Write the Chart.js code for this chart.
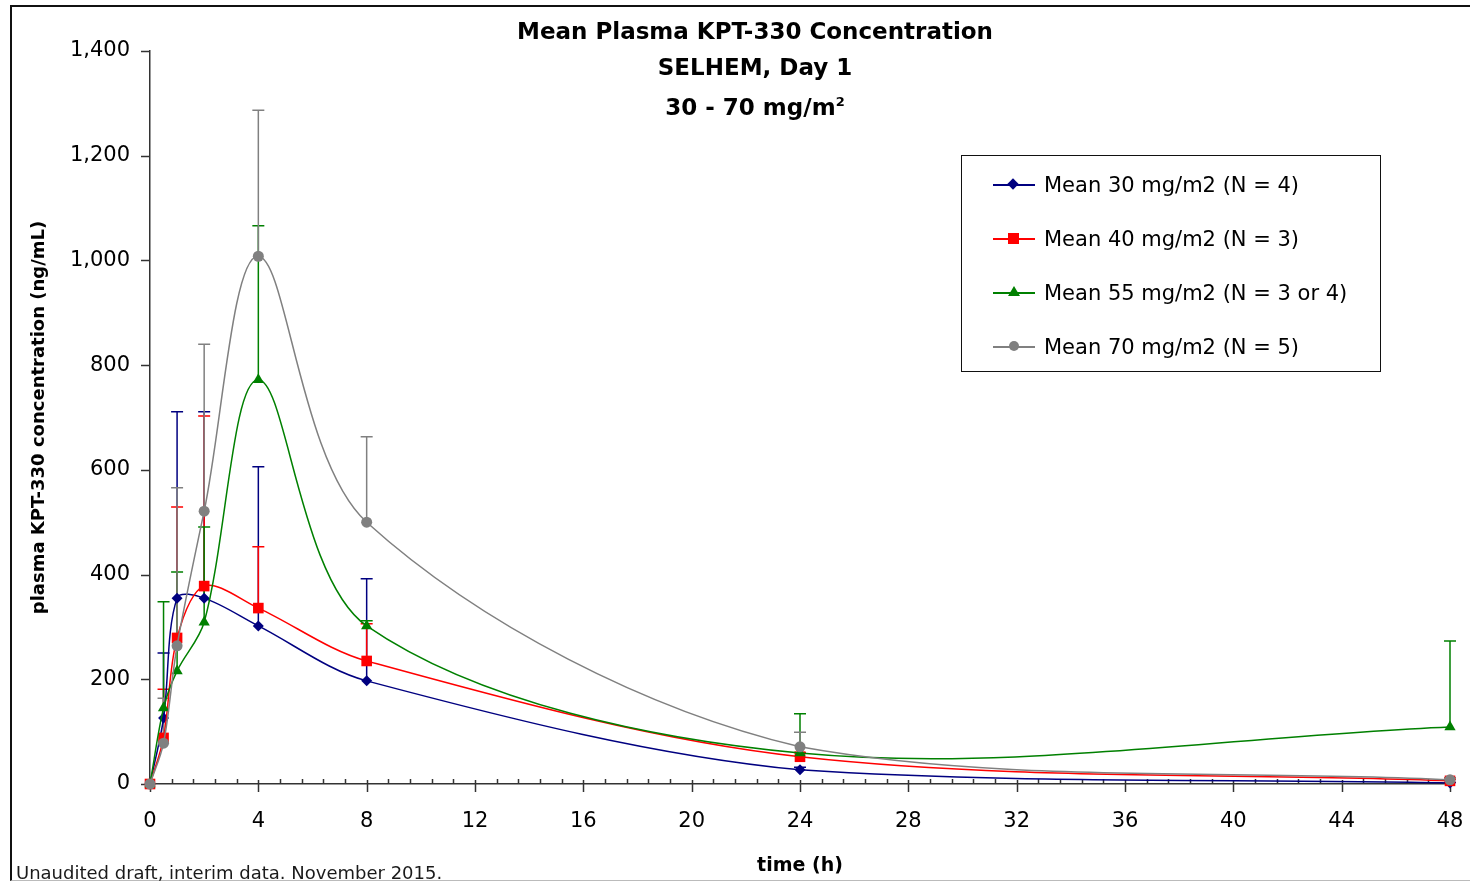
<!DOCTYPE html>
<html>
<head>
<meta charset="utf-8">
<script src="https://cdn.jsdelivr.net/npm/chart.js@4.4.1/dist/chart.umd.min.js"></script>
<style>
  body { margin: 0; background: #fff; }
  #wrap { position: relative; width: 1470px; height: 884px; overflow: hidden; font-family: "DejaVu Sans", Verdana, sans-serif; }
  #frame { position: absolute; left: 10px; top: 5px; width: 1470px; height: 876px; border-left: 2px solid #111; border-top: 2px solid #111; border-bottom: 1px solid #bbb; box-sizing: border-box; }
  .title { position: absolute; left: 455px; width: 600px; text-align: center; font-weight: bold; font-size: 23px; line-height: 28px; color: #000; }
  .title sup { font-size: 13px; vertical-align: top; position: relative; top: -5px; }
  #legend { position: absolute; left: 961px; top: 155px; width: 420px; height: 217px; border: 1.5px solid #111; box-sizing: border-box; background: #fff; }
  .item { position: absolute; left: 31px; height: 30px; width: 380px; }
  .item .ln { position: absolute; left: 0; top: 14px; width: 42px; height: 1.5px; }
  .item .mk { position: absolute; }
  .item .tx { position: absolute; left: 51px; top: 0; font-size: 21px; line-height: 30px; color: #000; white-space: nowrap; }
  #footer { position: absolute; left: 16px; top: 861px; font-size: 18px; line-height: 24px; color: #1a1a1a; }
  canvas { position: absolute; left: 0; top: 0; }
</style>
</head>
<body>
<div id="wrap">
  <canvas id="chart" width="1470" height="884"></canvas>
  <div id="frame"></div>
  <div class="title" style="top:17px">Mean Plasma KPT-330 Concentration</div>
  <div class="title" style="top:53px">SELHEM, Day 1</div>
  <div class="title" style="top:93px">30 - 70 mg/m<sup>2</sup></div>
  <div id="legend"></div>
  <div id="footer">Unaudited draft, interim data. November 2015.</div>
</div>
<script>
// sampling times (h)
const times = [0, 0.5, 1, 2, 4, 8, 24, 48];

// mean concentrations (ng/mL)
const mean30 = [0, 126, 355, 355, 302, 197, 27, 2];
const mean40 = [0, 88, 279, 378, 336, 235, 52, 6];
const mean55 = [0, 145, 216, 309, 772, 302, 59, 109];
const mean70 = [0, 78, 264, 521, 1008, 500, 71, 8];

// upper end of the error bars (mean + SD)
const upper30 = [0, 250, 711, 711, 606, 392, 32, 3];
const upper40 = [0, 181, 529, 703, 453, 306, 60, 9];
const upper55 = [0, 348, 405, 491, 1066, 312, 134, 273];
const upper70 = [0, 164, 566, 840, 1287, 663, 99, 12];

const seriesLabels = ["Mean 30 mg/m2 (N = 4)", "Mean 40 mg/m2 (N = 3)", "Mean 55 mg/m2 (N = 3 or 4)", "Mean 70 mg/m2 (N = 5)"];
const yTicks = [0, 200, 400, 600, 800, 1000, 1200, 1400];
const xMax = 48;
const xMajorStep = 4;
const xMinorStep = 0.8;

const colors = ["#000080", "#ff0000", "#008000", "#808080"];
const styles = ["rectRot", "rect", "triangle", "circle"];
const radii = [5.5, 7.5, 6.5, 5.5];
const means = [mean30, mean40, mean55, mean70];
const uppers = [upper30, upper40, upper55, upper70];

function points(vals) {
    return times.map((t, i) => ({ x: t, y: vals[i] }));
}

const datasets = means.map((m, k) => ({
    label: seriesLabels[k],
    data: points(m),
    borderColor: colors[k],
    backgroundColor: colors[k],
    borderWidth: 1.5,
    pointStyle: styles[k],
    pointRadius: radii[k],
    pointBorderWidth: 0,
    tension: 0.33,
    clip: false,
    order: 3 - k,
}));

// error bars (upper only), drawn under the lines
const errorBars = {
    id: "errorBars",
    beforeDatasetsDraw(chart) {
        const { ctx, scales: { x, y } } = chart;
        ctx.save();
        ctx.lineWidth = 1.5;
        uppers.forEach((up, k) => {
            ctx.strokeStyle = colors[k];
            times.forEach((t, i) => {
                if (up[i] <= means[k][i]) return;
                const px = x.getPixelForValue(t);
                const y0 = y.getPixelForValue(means[k][i]);
                const y1 = y.getPixelForValue(up[i]);
                ctx.beginPath();
                ctx.moveTo(px, y0);
                ctx.lineTo(px, y1);
                ctx.moveTo(px - 6, y1);
                ctx.lineTo(px + 6, y1);
                ctx.stroke();
            });
        });
        ctx.restore();
    }
};

// Excel-style tick marks
const tickMarks = {
    id: "tickMarks",
    beforeDatasetsDraw(chart) {
        const { ctx, scales: { x, y }, chartArea } = chart;
        ctx.save();
        ctx.strokeStyle = "#333";
        ctx.lineWidth = 1.5;
        const n = Math.round(xMax / xMinorStep);
        const per = Math.round(xMajorStep / xMinorStep);
        for (let i = 0; i <= n; i++) {
            const px = Math.round(x.getPixelForValue(i * xMinorStep)) + 0.5;
            ctx.beginPath();
            if (i % per === 0) {
                ctx.moveTo(px, chartArea.bottom - 4);
                ctx.lineTo(px, chartArea.bottom + 8);
            } else {
                ctx.moveTo(px, chartArea.bottom - 5);
                ctx.lineTo(px, chartArea.bottom);
            }
            ctx.stroke();
        }
        yTicks.forEach(v => {
            const py = Math.round(y.getPixelForValue(v)) + 0.5;
            ctx.beginPath();
            ctx.moveTo(chartArea.left - 9, py);
            ctx.lineTo(chartArea.left, py);
            ctx.stroke();
        });
        ctx.restore();
    }
};

new Chart(document.getElementById("chart"), {
    type: "line",
    data: { datasets: datasets },
    plugins: [tickMarks, errorBars],
    options: {
        responsive: false,
        animation: false,
        layout: { padding: { left: 0, right: 20, top: 51, bottom: 0 } },
        plugins: {
            legend: { display: false },
            tooltip: { enabled: false },
        },
        scales: {
            x: {
                type: "linear",
                min: 0,
                max: xMax,
                afterFit: (s) => { s.height = 100; },
                grid: { display: false, drawTicks: true, tickLength: 25 },
                border: { display: true, color: "#333", width: 1.5 },
                ticks: {
                    stepSize: xMajorStep,
                    padding: 0,
                    color: "#000",
                    font: { family: "DejaVu Sans", size: 21 },
                },
                title: {
                    display: true,
                    text: "time (h)",
                    color: "#000",
                    font: { family: "DejaVu Sans", size: 19, weight: "bold" },
                    padding: { top: 0, bottom: 7 },
                },
            },
            y: {
                min: 0,
                max: 1400,
                afterFit: (s) => { s.width = 150; },
                afterBuildTicks: (s) => { s.ticks = yTicks.map(v => ({ value: v })); },
                grid: { display: false, drawTicks: true, tickLength: 20 },
                border: { display: true, color: "#333", width: 1.5 },
                ticks: {
                    padding: 0,
                    color: "#000",
                    font: { family: "DejaVu Sans", size: 21 },
                    callback: (v) => v.toLocaleString("en-US"),
                },
                title: {
                    display: true,
                    text: "plasma KPT-330 concentration (ng/mL)",
                    color: "#000",
                    font: { family: "DejaVu Sans", size: 18, weight: "bold" },
                    padding: { top: 29, bottom: 0 },
                },
            },
        },
    },
});

// legend box
const legend = document.getElementById("legend");
seriesLabels.forEach((lab, k) => {
    const item = document.createElement("div");
    item.className = "item";
    item.style.top = (14 + k * 54) + "px";
    let mk = "";
    if (k === 0) mk = '<div class="mk" style="left:16px;top:10px;width:8px;height:8px;background:' + colors[k] + ';transform:rotate(45deg)"></div>';
    if (k === 1) mk = '<div class="mk" style="left:15px;top:9px;width:11px;height:11px;background:' + colors[k] + '"></div>';
    if (k === 2) mk = '<div class="mk" style="left:15px;top:8px;width:0;height:0;border-left:6px solid transparent;border-right:6px solid transparent;border-bottom:10px solid ' + colors[k] + '"></div>';
    if (k === 3) mk = '<div class="mk" style="left:16px;top:9px;width:10px;height:10px;border-radius:50%;background:' + colors[k] + '"></div>';
    item.innerHTML = '<div class="ln" style="background:' + colors[k] + '"></div>' + mk + '<div class="tx">' + lab + '</div>';
    legend.appendChild(item);
});
</script>
</body>
</html>
